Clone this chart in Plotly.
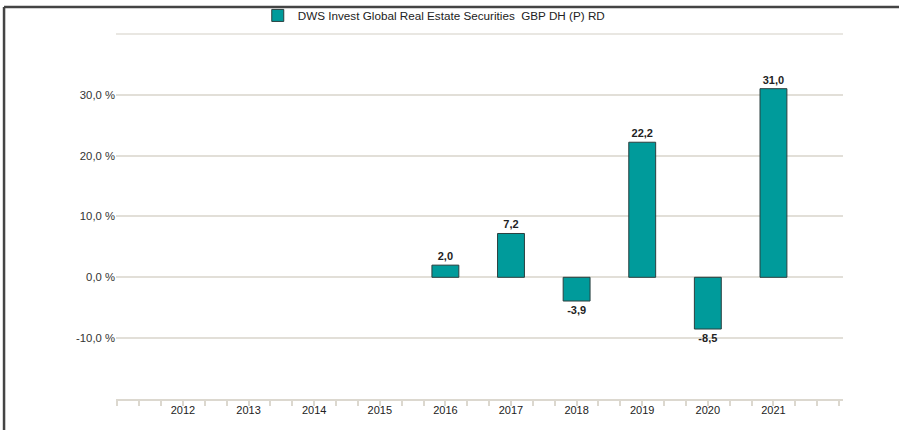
import plotly.graph_objects as go

years = [2012, 2013, 2014, 2015, 2016, 2017, 2018, 2019, 2020, 2021]
returns = [None, None, None, None, 2.0, 7.2, -3.9, 22.2, -8.5, 31.0]
series_name = "DWS Invest Global Real Estate Securities  GBP DH (P) RD"
y_ticks = [-10, 0, 10, 20, 30, 40]
y_ticktext = ["-10,0 %", "0,0 %", "10,0 %", "20,0 %", "30,0 %", ""]

labels = ["" if v is None else "<b>" + f"{v:.1f}".replace(".", ",") + "</b>" for v in returns]

fig = go.Figure()
fig.add_trace(go.Bar(
    x=years, y=returns, name=series_name,
    text=labels, textposition="outside", cliponaxis=False,
    textfont=dict(family="Arial, Liberation Sans", size=11, color="#222222"),
    marker=dict(color="#009b9b", line=dict(color="#2b3f3f", width=1)),
    width=0.41, showlegend=True,
))

grid = "#e2dfd8"
fig.update_layout(
    width=899, height=430,
    margin=dict(l=116, r=56, t=33, b=31, autoexpand=False),
    paper_bgcolor="white", plot_bgcolor="white",
    font=dict(family="Arial, Liberation Sans", size=11, color="#333333"),
    showlegend=True,
    legend=dict(x=0.195, xanchor="left", y=1.048, yanchor="middle",
                orientation="h", font=dict(size=11.7, color="#222222"),
                bgcolor="rgba(0,0,0,0)", itemwidth=30),
    xaxis=dict(range=[2010.98, 2022.06], tickvals=years, ticks="", showgrid=False,
               showline=True, linecolor="#dcd8cf", linewidth=2, zeroline=False,
               tickfont=dict(size=11, color="#222222"),
               minor=dict(tick0=2011, dtick=1/3, ticks="outside", ticklen=5,
                          tickcolor="#dcd8cf", tickwidth=2, showgrid=False)),
    yaxis=dict(range=[-20, 40.15], tickvals=y_ticks, ticktext=y_ticktext,
               showgrid=True, gridcolor=grid, gridwidth=1.5,
               zeroline=True, zerolinecolor=grid, zerolinewidth=1.5,
               ticks="", showline=False, tickfont=dict(size=11.3, color="#333333")),
    shapes=[
        dict(type="line", xref="paper", yref="paper",
             x0=-0.154, x1=1.1, y0=1.071, y1=1.071,
             line=dict(color="#444444", width=2.5)),
        dict(type="line", xref="paper", yref="paper",
             x0=-0.154, x1=-0.154, y0=1.071, y1=-0.1,
             line=dict(color="#444444", width=2.5)),
        dict(type="line", xref="paper", yref="y", layer="below",
             x0=0, x1=1, y0=y_ticks[-1], y1=y_ticks[-1],
             line=dict(color=grid, width=1.5)),
    ],
)

fig.write_html("out.html", config={"displayModeBar": False},
               post_script="document.body.style.margin='0';")
